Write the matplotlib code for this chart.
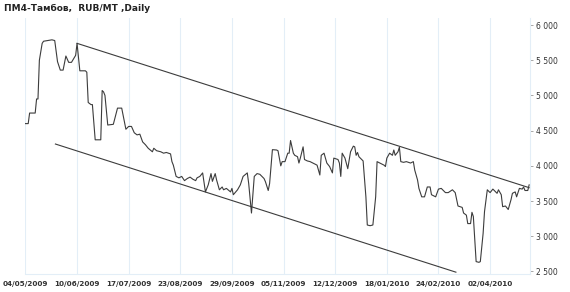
import numpy as np
import pandas as pd
import matplotlib
matplotlib.use('Agg')
import matplotlib.pyplot as plt
import matplotlib.dates as mdates
from matplotlib.ticker import FuncFormatter

# price series, days counted from the first date
start = '2009-05-04'
days = [0, 2, 3, 7, 8, 9, 10, 12, 13, 16, 19, 21, 23, 25, 27, 29, 31, 33, 36, 37,
        39, 43, 44, 45, 47, 48, 50, 54, 55, 56, 57, 59, 63, 66, 69, 72, 74, 76, 78, 80,
        82, 84, 86, 88, 91, 92, 94, 97, 99, 101, 104, 105, 106, 108, 110, 112, 114, 116, 118, 120,
        122, 123, 125, 127, 129, 131, 133, 134, 136, 137, 139, 141, 142, 144, 147, 148, 149, 152, 154, 156,
        159, 160, 162, 163, 164, 166, 168, 171, 172, 174, 175, 177, 180, 181, 183, 184, 186, 188, 189, 190,
        192, 193, 195, 196, 197, 199, 200, 202, 204, 206, 209, 211, 212, 214, 216, 218, 220, 221, 224, 225,
        226, 227, 229, 231, 233, 235, 236, 237, 238, 239, 241, 242, 244, 245, 247, 249, 251, 252, 254, 257,
        258, 259, 261, 263, 264, 265, 267, 268, 269, 271, 273, 276, 278, 279, 281, 282, 284, 286, 288, 290,
        291, 294, 296, 298, 301, 303, 306, 308, 310, 313, 314, 316, 317, 319, 320, 321, 323, 325, 326, 328,
        329, 331, 333, 335, 337, 338, 339, 341, 342, 344, 346, 348, 349, 351, 352, 354, 356, 357, 358, 360,
        361]
price = [4600, 4600, 4750, 4750, 4950, 4950, 5500, 5740, 5770, 5780, 5790, 5780, 5480, 5360, 5360, 5560, 5470, 5470, 5570, 5740,
         5350, 5350, 5330, 4900, 4870, 4870, 4370, 4370, 5070, 5050, 5000, 4580, 4590, 4820, 4820, 4520, 4560, 4560, 4470, 4440,
         4450, 4340, 4300, 4250, 4200, 4250, 4215, 4200, 4180, 4190, 4170, 4060, 4010, 3850, 3830, 3850, 3790, 3820, 3840, 3810,
         3790, 3830, 3850, 3900, 3630, 3730, 3890, 3780, 3890, 3800, 3660, 3700, 3660, 3680, 3630, 3680, 3590, 3660, 3730, 3850,
         3900, 3750, 3330, 3590, 3850, 3890, 3880, 3820, 3775, 3650, 3750, 4230, 4225, 4215, 4000, 4060, 4060, 4180, 4180, 4360,
         4180, 4150, 4130, 4040, 4110, 4270, 4090, 4070, 4060, 4040, 4010, 3870, 4150, 4180, 4040, 3990, 3900, 4110, 4090, 4040,
         3850, 4180, 4110, 3960, 4200, 4280, 4270, 4150, 4190, 4130, 4090, 4070, 3560, 3160, 3150, 3160, 3560, 4060, 4040, 4010,
         3990, 4110, 4180, 4150, 4225, 4150, 4200, 4265, 4060, 4050, 4060, 4040, 4060, 3940, 3800, 3680, 3560, 3560, 3700, 3700,
         3590, 3560, 3670, 3680, 3620, 3620, 3660, 3620, 3430, 3410, 3330, 3300, 3180, 3180, 3340, 3280, 2640, 2630, 2640, 3040,
         3350, 3660, 3620, 3670, 3630, 3610, 3660, 3590, 3420, 3430, 3380, 3520, 3610, 3630, 3560, 3680, 3670, 3700, 3650, 3650,
         3730]

# channel lines
upper_days = [37, 361]
upper_vals = [5740, 3690]
lower_days = [21.5, 308.5]
lower_vals = [4310, 2490]

yticks = [2500, 3000, 3500, 4000, 4500, 5000, 5500, 6000]

t0 = pd.Timestamp(start)
dates = t0 + pd.to_timedelta(days, unit='D')
up_d = t0 + pd.to_timedelta(upper_days, unit='D')
lo_d = t0 + pd.to_timedelta(lower_days, unit='D')
xticks = [t0 + pd.Timedelta(days=37 * i) for i in range(10)]

grid_col = '#e3eef7'
txt_col = '#333333'
line_col = '#3c3c3c'

fig = plt.figure(figsize=(5.7, 2.92), dpi=100)
ax = fig.add_axes([25/570, 18/292, 505/570, 256/292])

ax.plot(dates, price, color=line_col, lw=0.8)
ax.plot(up_d, upper_vals, color=line_col, lw=0.8)
ax.plot(lo_d, lower_vals, color=line_col, lw=0.8)

ax.set_xlim(t0 - pd.Timedelta(days=0.3), t0 + pd.Timedelta(days=361.6))
ax.set_ylim(2464, 6100)

ax.set_xticks(xticks)
ax.xaxis.set_major_formatter(mdates.DateFormatter('%d/%m/%Y'))
ax.grid(axis='x', color=grid_col, lw=0.8)
ax.set_axisbelow(True)

ax.yaxis.tick_right()
ax.set_yticks(yticks)
ax.yaxis.set_major_formatter(FuncFormatter(lambda v, p: '{:,}'.format(int(v)).replace(',', ' ')))

for s in ['top', 'left']:
	ax.spines[s].set_visible(False)
for s in ['bottom', 'right']:
	ax.spines[s].set_color(grid_col)
	ax.spines[s].set_linewidth(0.8)

ax.tick_params(axis='x', length=0, pad=5, labelsize=5.2, labelcolor=txt_col)
ax.tick_params(axis='y', length=2.5, width=0.6, color='#999999', pad=1.5, labelsize=5.5, labelcolor=txt_col)
for lb in ax.get_xticklabels():
	lb.set_fontweight('bold')

fig.text(4/570, 1 - 4/292, 'ПМ4-Тамбов,  RUB/MT ,Daily', fontsize=6.5, fontweight='bold',
         color='#222222', ha='left', va='top')

fig.savefig('out.png', dpi=100)
